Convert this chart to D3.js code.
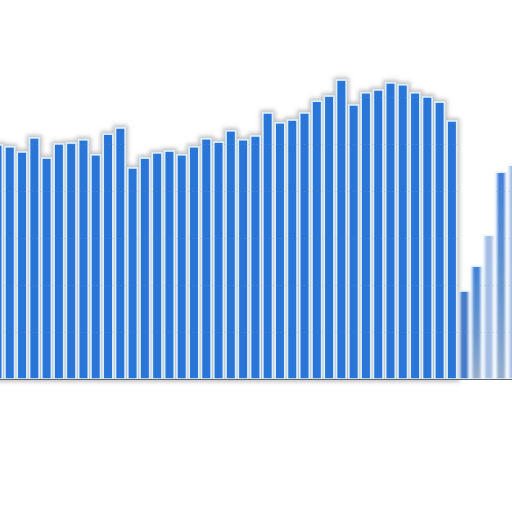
<!DOCTYPE html>
<html>
  <head>
    <style type="text/css">
      html, body { margin:0; padding:0; background:#fff; }
      svg { display:block; }
    </style>
  </head>
  <body>
    <div id="canvas"></div>
    <script type="text/javascript" src="https://cdn.jsdelivr.net/npm/d3@7/dist/d3.min.js"></script>
    <script type="text/javascript">
      // one value per bar, left to right (first and last are cut by the frame)
      var periods = d3.range(-1, 42);
      var values = [49.8, 49.4, 48.3, 51.3, 47.0, 50.0, 50.2, 50.9, 47.7, 52.1, 53.4,
                    44.9, 47.0, 48.1, 48.5, 47.7, 49.4, 51.1, 50.4, 52.8, 50.9, 51.7,
                    56.6, 54.5, 55.1, 56.6, 59.1, 60.2, 63.6, 58.3, 60.9, 61.5, 63.0,
                    62.6, 60.9, 60.0, 58.9, 54.9, 18.7, 24.0, 30.6, 44.0, 45.5];
      var gridTicks = [10, 20, 30, 40, 50, 60, 70];
      var tailStart = 37; // bars from here on are still moving in the shot

      (function() {
        var width = 512, height = 512, baseY = 379;

        var svg = d3.select('#canvas').append('svg')
                    .attr('width', width)
                    .attr('height', height);

        var x = d3.scaleBand()
                  .domain(periods)
                  .range([-7.3, 518.1])
                  .paddingInner(0.22)
                  .paddingOuter(0);

        var y = d3.scaleLinear()
                  .domain([0, 80])
                  .range([baseY, baseY - 376]);

        var bars = periods.map(function (p, i) { return {p: p, v: values[i]}; });
        var steady = bars.filter(function (d) { return d.p < tailStart; });
        var tail = bars.filter(function (d) { return d.p >= tailStart; });

        var defs = svg.append('defs');

        var shadow = defs.append('filter').attr('id', 'halo')
                         .attr('x', '-10%').attr('y', '-10%')
                         .attr('width', '120%').attr('height', '120%');
        shadow.append('feMorphology').attr('in', 'SourceAlpha')
              .attr('operator', 'dilate').attr('radius', 1.5).attr('result', 'fat');
        shadow.append('feGaussianBlur').attr('in', 'fat')
              .attr('stdDeviation', 2.2).attr('result', 'blur');
        shadow.append('feFlood').attr('flood-color', '#8a8a8a')
              .attr('flood-opacity', 0.55).attr('result', 'grey');
        shadow.append('feComposite').attr('in', 'grey').attr('in2', 'blur')
              .attr('operator', 'in').attr('result', 'shade');
        var merge = shadow.append('feMerge');
        merge.append('feMergeNode').attr('in', 'shade');
        merge.append('feMergeNode').attr('in', 'SourceGraphic');

        var smear = defs.append('filter').attr('id', 'smear')
                        .attr('x', '-30%').attr('y', '-5%')
                        .attr('width', '160%').attr('height', '110%');
        smear.append('feGaussianBlur').attr('in', 'SourceGraphic')
             .attr('stdDeviation', '1.3 0.6');

        var fade = defs.append('linearGradient').attr('id', 'fade')
                       .attr('x1', 0).attr('y1', 0).attr('x2', 0).attr('y2', 1);
        fade.append('stop').attr('offset', '0%').attr('stop-color', '#2e78d6');
        fade.append('stop').attr('offset', '60%').attr('stop-color', '#5f8fcc');
        fade.append('stop').attr('offset', '100%').attr('stop-color', '#8fa8c8');

        var clip = defs.append('clipPath').attr('id', 'barClip');
        clip.selectAll('rect')
            .data(bars)
          .enter().append('rect')
            .attr('x', function (d) { return x(d.p) - 1.5; })
            .attr('width', x.bandwidth() + 3)
            .attr('y', function (d) { return y(d.v); })
            .attr('height', function (d) { return baseY - y(d.v); });

        var barStyle = function (sel) {
          sel.attr('x', function (d) { return x(d.p); })
             .attr('width', x.bandwidth())
             .attr('y', function (d) { return y(d.v); })
             .attr('height', function (d) { return baseY - y(d.v); })
             .attr('stroke', '#dcefff')
             .attr('stroke-width', 1.6);
        };

        svg.append('g').attr('filter', 'url(#halo)')
           .selectAll('rect')
           .data(steady)
         .enter().append('rect')
           .call(barStyle)
           .attr('fill', '#2a76d8');

        var tailG = svg.append('g').attr('filter', 'url(#smear)');
        tailG.selectAll('rect')
             .data(tail)
           .enter().append('rect')
             .call(barStyle)
             .attr('fill', function (d, i) { return i % 2 === 0 ? '#3672c6' : 'url(#fade)'; })
             .attr('opacity', function (d, i) { return i === 2 || i === 4 ? 0.45 : 0.92; });

        // faint gridlines, only seen through the bar gaps
        svg.append('g').attr('clip-path', 'url(#barClip)')
           .selectAll('line')
           .data(gridTicks)
         .enter().append('line')
           .attr('x1', 0).attr('x2', width)
           .attr('y1', function (d) { return Math.round(y(d)) + 0.5; })
           .attr('y2', function (d) { return Math.round(y(d)) + 0.5; })
           .attr('stroke', '#8899aa')
           .attr('stroke-opacity', 0.2)
           .attr('stroke-dasharray', '2,2');

        svg.append('line')
           .attr('x1', 0).attr('x2', width)
           .attr('y1', baseY + 0.5).attr('y2', baseY + 0.5)
           .attr('stroke', '#666')
           .attr('stroke-width', 1.2);
      })();
    </script>
  </body>
</html>
